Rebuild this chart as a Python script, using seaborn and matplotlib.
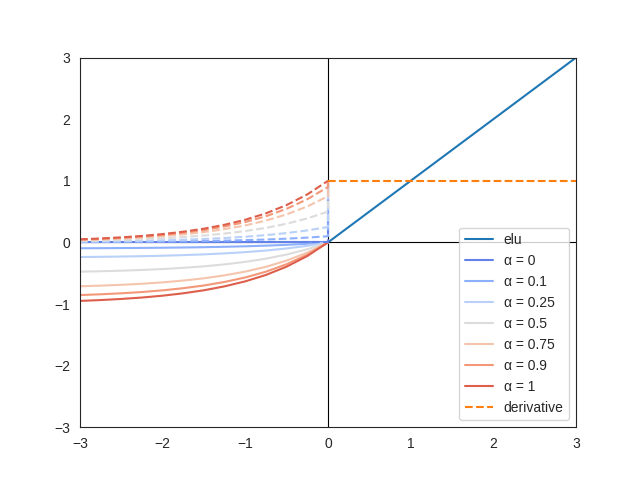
import numpy as np
import pandas as pd
import seaborn as sns
import matplotlib
matplotlib.use("Agg")
import matplotlib.pyplot as plt

# values
alphas = [0, 0.1, 0.25, 0.5, 0.75, 0.9, 1]
x_neg = [-3, -2.75, -2.5, -2.25, -2, -1.75, -1.5, -1.25, -1, -0.75, -0.5, -0.25, 0]
# alpha = 1 derivative curve (exp-like), scaled by alpha for the other curves
base = [0.050, 0.064, 0.082, 0.105, 0.135, 0.174, 0.223, 0.287, 0.368, 0.472, 0.607, 0.779, 1.0]
x_pos = [0, 3]
elu_pos = [0, 3]
deriv_pos = [1, 1]

sns.set_style("white")
plt.rcParams["font.family"] = ["Liberation Sans", "DejaVu Sans"]

fig, ax = plt.subplots(figsize=(6.4, 4.8), dpi=100)
ax.axhline(0, color="black", lw=0.8)
ax.axvline(0, color="black", lw=0.8)

colors = sns.color_palette("coolwarm", len(alphas))

sns.lineplot(x=x_pos, y=elu_pos, color="C0", label="elu", ax=ax)
for a, c in zip(alphas, colors):
    y = [a * (b - 1) for b in base]
    sns.lineplot(x=x_neg, y=y, color=c, label=f"α = {a}", ax=ax)
for a, c in zip(alphas, colors):
    xd = x_neg + [0]
    yd = [a * b for b in base] + [1]
    sns.lineplot(x=xd, y=yd, color=c, linestyle="--", estimator=None, sort=False, ax=ax)
sns.lineplot(x=x_pos, y=deriv_pos, color="C1", linestyle="--", label="derivative", ax=ax)

ax.set_xlim(-3, 3)
ax.set_ylim(-3, 3)
ax.legend(loc="lower right")
fig.savefig("out.png")
